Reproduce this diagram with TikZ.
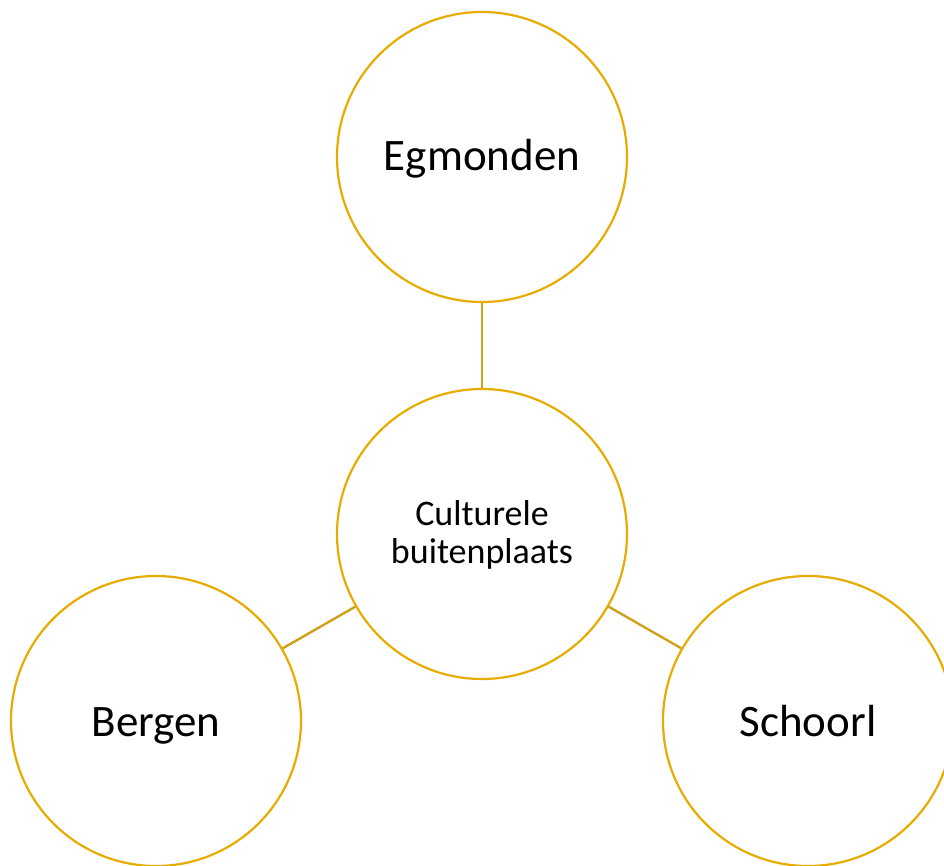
\documentclass[tikz,border=0pt]{standalone}
\usepackage{fontspec}
\setmainfont{Carlito}
\definecolor{ring}{HTML}{E6AC00}
\definecolor{link}{HTML}{CFA11A}
\begin{document}
\begin{tikzpicture}[x=1pt,y=-1pt,
  bubble/.style={circle, draw=ring, line width=2.2pt, fill=white, minimum size=290pt, inner sep=0pt},
  bigtxt/.style={font=\fontsize{45}{54}\selectfont, anchor=base},
  midtxt/.style={font=\fontsize{36}{38}\selectfont, anchor=base},
  linkline/.style={draw=link, line width=2.4pt}]
\useasboundingbox (0,0) rectangle (944,866);
\clip (0,0) rectangle (944,866);
\node[bubble] (egm) at (482,157) {};
\node[bubble] (cen) at (482,534) {};
\node[bubble] (ber) at (156,721) {};
\node[bubble] (sch) at (808,721) {};
\draw[linkline] (egm) -- (cen);
\draw[linkline] (ber) -- (cen);
\draw[linkline] (sch) -- (cen);
\node[bigtxt] (tegm) at (482,171) {Egmonden};
\node[bigtxt] (tber) at (156,736) {Bergen};
\node[bigtxt] (tsch) at (808,736) {Schoorl};
\node[midtxt] (tcen1) at (482,525) {Culturele};
\node[midtxt] (tcen2) at (482,563) {buitenplaats};
\end{tikzpicture}
\end{document}
